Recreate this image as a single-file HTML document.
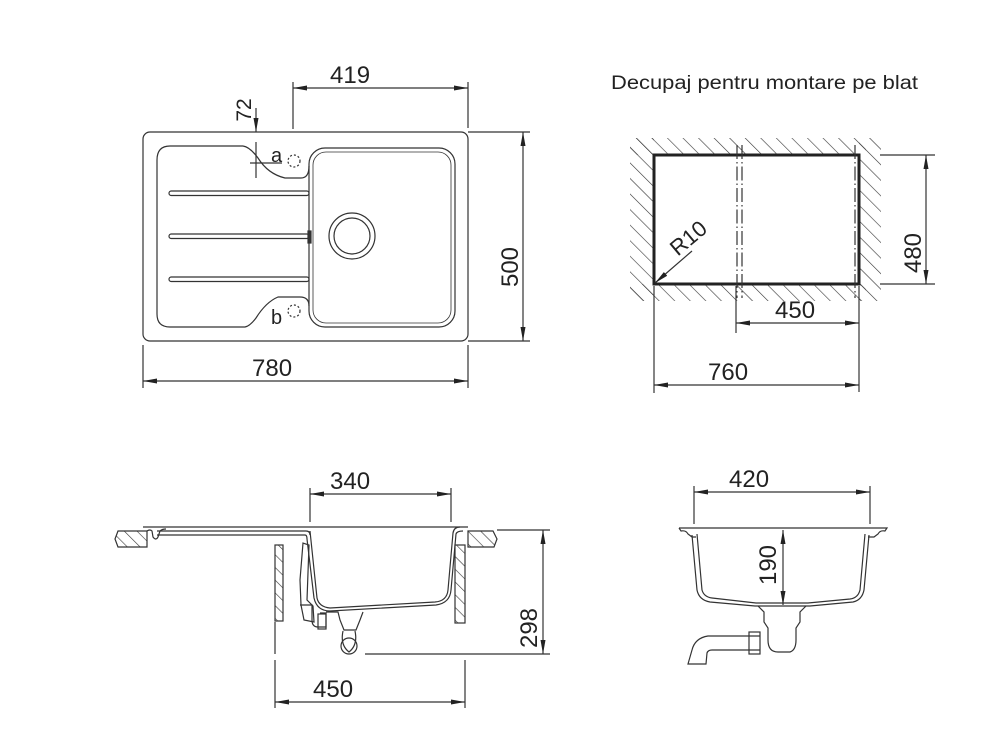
<!DOCTYPE html>
<html><head><meta charset="utf-8"><style>
html,body{margin:0;padding:0;background:#fff;}
svg{display:block;}
text{font-family:"Liberation Sans",sans-serif;fill:#222;}
</style></head><body>
<svg width="1000" height="750" viewBox="0 0 1000 750" xmlns="http://www.w3.org/2000/svg">
<defs>
<marker id="a" viewBox="0 0 14 6" refX="14" refY="3" markerWidth="14" markerHeight="6" markerUnits="userSpaceOnUse" orient="auto-start-reverse"><path d="M0,0.5 L14,3 L0,5.5z" fill="#222"/></marker>
<pattern id="h" width="11" height="11" patternUnits="userSpaceOnUse" patternTransform="rotate(-45)"><line x1="0" y1="0" x2="0" y2="11" stroke="#333" stroke-width="1.2"/></pattern>
<pattern id="h2" width="9" height="9" patternUnits="userSpaceOnUse" patternTransform="rotate(-45)"><line x1="0" y1="0" x2="0" y2="9" stroke="#333" stroke-width="1.2"/></pattern>
</defs>
<g fill="none" stroke="#333" stroke-width="1.2">
<!-- TOP LEFT: plan view -->
<rect x="143" y="132" width="325" height="209" rx="7"/>
<path d="M243,146 H170 Q157,146 157,160 V314 Q157,327 170,327 H245 Q250,326 256,318 Q266,302 278,297 H300 Q309,297 309,306"/>
<path d="M243,146 Q250,147 258,158 Q268,174 285,178 H301 Q309,178 309,166"/>
<rect x="309" y="148" width="146" height="179" rx="16"/>
<rect x="313" y="152" width="138" height="171" rx="13" stroke-width="0.8"/>
<circle cx="352" cy="236" r="23"/><circle cx="352" cy="236" r="18"/>
<rect x="169" y="191" width="140" height="4.5" rx="2.2"/>
<rect x="169" y="234" width="140" height="4.5" rx="2.2"/>
<rect x="169" y="277" width="140" height="4.5" rx="2.2"/>
<rect x="308" y="231" width="3" height="12" fill="#333"/>
<circle cx="294" cy="161" r="6" stroke-dasharray="2,2"/>
<circle cx="294" cy="311" r="6" stroke-dasharray="2,2"/>
<line x1="293" y1="82" x2="293" y2="129"/><line x1="468" y1="82" x2="468" y2="128"/>
<line x1="293" y1="88" x2="468" y2="88" marker-start="url(#a)" marker-end="url(#a)"/>
<line x1="143" y1="345" x2="143" y2="388"/><line x1="468" y1="345" x2="468" y2="388"/>
<line x1="143" y1="381" x2="468" y2="381" marker-start="url(#a)" marker-end="url(#a)"/>
<line x1="468" y1="132" x2="530" y2="132"/><line x1="468" y1="341" x2="530" y2="341"/>
<line x1="523" y1="132" x2="523" y2="341" marker-start="url(#a)" marker-end="url(#a)"/>
<line x1="256" y1="108" x2="256" y2="132" marker-end="url(#a)"/>
<line x1="256" y1="142" x2="256" y2="178"/>
<line x1="250" y1="163" x2="282" y2="163"/>
<!-- TOP RIGHT cutout -->
<rect x="630" y="138" width="236" height="17" fill="url(#h)" stroke="none"/>
<rect x="630" y="284" width="236" height="17" fill="url(#h)" stroke="none"/>
<rect x="630" y="138" width="24" height="163" fill="url(#h)" stroke="none"/>
<rect x="859" y="138" width="22" height="163" fill="url(#h)" stroke="none"/>
<rect x="654" y="155" width="205" height="129" fill="#fff" stroke="#222" stroke-width="3"/>
<line x1="737" y1="145" x2="737" y2="298" stroke-dasharray="14,3,1.5,3"/>
<line x1="742" y1="145" x2="742" y2="298" stroke-dasharray="14,3,1.5,3"/>
<line x1="855" y1="145" x2="855" y2="298" stroke-dasharray="14,3,1.5,3"/>
<line x1="880" y1="155" x2="935" y2="155"/><line x1="880" y1="284" x2="935" y2="284"/>
<line x1="926" y1="155" x2="926" y2="284" marker-start="url(#a)" marker-end="url(#a)"/>
<line x1="736" y1="286" x2="736" y2="333"/><line x1="859" y1="286" x2="859" y2="392"/>
<line x1="736" y1="323" x2="859" y2="323" marker-start="url(#a)" marker-end="url(#a)"/>
<line x1="654" y1="286" x2="654" y2="393"/>
<line x1="654" y1="385" x2="859" y2="385" marker-start="url(#a)" marker-end="url(#a)"/>
<line x1="692" y1="251" x2="655" y2="283" marker-end="url(#a)"/>
<!-- BOTTOM LEFT section -->
<path d="M118,531 H147 V547 H118 L115,539z" fill="url(#h2)"/>
<path d="M468,531 H493 L497,539 L494,547 H468z" fill="url(#h2)"/>
<path d="M143,527 H468"/>
<path d="M147,531 Q150,529 152,531 L153,537 Q156,541 158,537 L160,531 Q162,529 166,529"/>
<path d="M157,531 H306 Q310,531 310,535"/>
<path d="M157,535 H305 Q307,535 307,539"/>
<path d="M310,531 L317,598 Q319,607 330,608 L435,602 Q447,601 448,590 L453,533 Q454,527 460,527"/>
<path d="M307,539 L314,598 Q317,611 330,611 L436,605 Q450,603 451,590 L456,534 Q457,531 463,531"/>
<rect x="275" y="545" width="8" height="76" fill="url(#h2)"/>
<rect x="455" y="545" width="10" height="78" fill="url(#h2)"/>
<path d="M303,543 L300,580 L301,605 L304,620 L314,622 L313,606 L307,600 L309,545z"/>
<path d="M300,605 H312 V620 Q312,627 318,627 H326 V613 H320"/>
<rect x="318" y="614" width="8" height="15"/>
<path d="M326,612 L338,612 L340,620 L344,630 H356 L360,620 L363,612"/>
<path d="M343,631 Q340,645 349,652 Q358,645 355,631"/>
<circle cx="349" cy="646" r="8"/>
<line x1="310" y1="488" x2="310" y2="522"/><line x1="451" y1="488" x2="451" y2="522"/>
<line x1="310" y1="494" x2="451" y2="494" marker-start="url(#a)" marker-end="url(#a)"/>
<line x1="497" y1="530" x2="550" y2="530"/><line x1="365" y1="654" x2="550" y2="654"/>
<line x1="543" y1="530" x2="543" y2="654" marker-start="url(#a)" marker-end="url(#a)"/>
<line x1="275" y1="622" x2="275" y2="654"/><line x1="275" y1="660" x2="275" y2="708"/>
<line x1="465" y1="660" x2="465" y2="708"/>
<line x1="275" y1="702" x2="465" y2="702" marker-start="url(#a)" marker-end="url(#a)"/>
<!-- BOTTOM RIGHT section -->
<path d="M679,528 H887 L885,531 Q880,530 878,534 L874,537 H868"/>
<path d="M679,528 L681,531 Q686,530 688,534 L692,537 H696"/>
<path d="M692,535 L697,590 Q699,600 710,602 L755,606 H810 L853,602 Q862,600 864,590 L869,535"/>
<path d="M697,534 L702,590 Q704,597 712,598 L756,603 H808 L850,599 Q858,598 860,590 L865,534"/>
<path d="M758,606 L764,612 V622 L768,628 V640 Q768,652 778,652 H790 Q796,650 796,640 V628 L800,622 V612 L806,606"/>
<path d="M760,636 H708 Q695,638 692,650 L688,664 H706 L707,653 Q708,650 712,650 H760"/>
<rect x="749" y="632" width="11" height="22"/>
<line x1="694" y1="486" x2="694" y2="524"/><line x1="870" y1="486" x2="870" y2="524"/>
<line x1="694" y1="492" x2="870" y2="492" marker-start="url(#a)" marker-end="url(#a)"/>
<line x1="783" y1="530" x2="783" y2="605" marker-start="url(#a)" marker-end="url(#a)"/>
</g>
<g font-size="24">
<text x="330" y="83">419</text>
<text x="252" y="376">780</text>
<text text-anchor="middle" transform="translate(518,267) rotate(-90)">500</text>
<text font-size="21" text-anchor="middle" transform="translate(251,110) rotate(-90)">72</text>
<text x="271" y="162" font-size="20">a</text>
<text x="271" y="324" font-size="20">b</text>
<text x="611" y="89" font-size="19" textLength="307" lengthAdjust="spacingAndGlyphs">Decupaj pentru montare pe blat</text>
<text text-anchor="middle" transform="translate(921,253) rotate(-90)">480</text>
<text x="775" y="318">450</text>
<text x="708" y="380">760</text>
<text x="690" y="245" font-size="22" text-anchor="middle" transform="rotate(-40 690 240)">R10</text>
<text x="330" y="489">340</text>
<text text-anchor="middle" transform="translate(537,628) rotate(-90)">298</text>
<text x="313" y="697">450</text>
<text x="729" y="487">420</text>
<text text-anchor="middle" transform="translate(776,565) rotate(-90)">190</text>
</g>
</svg>
</body></html>
